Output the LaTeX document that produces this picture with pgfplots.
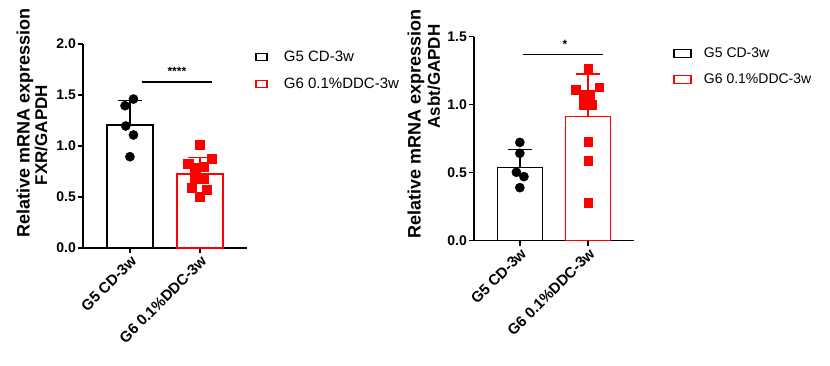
\documentclass[border=0pt]{standalone}
\usepackage{fontspec}
\setmainfont{Liberation Sans}
\usepackage{pgfplots}
\pgfplotsset{compat=1.18}
\definecolor{myred}{RGB}{255,0,0}
\pgfplotsset{
  barchart/.style={
    scale only axis, anchor=south west, clip=false,
    xmin=-0.67, xmax=1.67, ymin=0,
    axis x line*=bottom, axis y line*=left,
    axis line style={line width=1.5pt, black},
    xtick={0,1}, xticklabels={G5 CD-3w, G6 0.1\%DDC-3w},
    xticklabel style={rotate=45, anchor=north east, inner sep=1pt, font=\bfseries\fontsize{15}{17}\selectfont},
    yticklabel style={font=\bfseries\fontsize{14}{16}\selectfont, inner sep=2pt},
    /pgf/number format/.cd, fixed, fixed zerofill, precision=1, assume math mode=true, /pgfplots/.cd,
    tick style={line width=1.5pt, black}, tick align=outside, major tick length=5pt,
    ylabel style={rotate=0, font=\bfseries\fontsize{18}{20}\selectfont},
    legend style={draw=none, fill=none, anchor=north west,
      inner sep=0pt, legend cell align=left, nodes={inner sep=2pt}},
  },
  bblack/.style={ybar, bar shift=0pt, draw=black, fill=white, line width=1.5pt,
    error bars/.cd, y dir=plus, y explicit, error mark=|, error bar style={line width=1.5pt, black},
    error mark options={line width=1.5pt, mark size=12pt, black}},
  bred/.style={ybar, bar shift=0pt, draw=myred, fill=white, line width=1.5pt,
    error bars/.cd, y dir=plus, y explicit, error mark=|, error bar style={line width=1.5pt, myred},
    error mark options={line width=1.5pt, mark size=12pt, myred}},
}
\begin{document}
\begin{tikzpicture}
\useasboundingbox (0pt,0pt) rectangle (830pt,366pt);
% Left chart: FXR
\begin{axis}[barchart, at={(83pt,118pt)}, width=164pt, height=204pt, ymax=2,
  ytick={0,0.5,1,1.5,2},
  ylabel={Relative mRNA expression},
  ylabel style={at={(rel axis cs:-0.354,0.615)}, anchor=center},
  bar width=46pt,
  legend image code/.code={\draw[#1] (0pt,-3.5pt) rectangle (11pt,3.5pt); \path[draw=none,fill=none] (0pt,0pt) -- (26pt,0pt);},
  legend style={at={(rel axis cs:1.049,0.975)}, font=\fontsize{15}{17}\selectfont, row sep=11pt}]
\addlegendimage{draw=black, fill=white, line width=1.4pt}
\addlegendentry{G5 CD-3w}
\addlegendimage{draw=myred, fill=white, line width=1.4pt}
\addlegendentry{G6 0.1\%DDC-3w}
\addplot[bblack] coordinates {(0,1.206) +- (0,0.238)};
\addplot[bred] coordinates {(1,0.725) +- (0,0.16)};
\addplot[only marks, mark=*, mark size=4.6pt, black] coordinates {
(0.05,1.46) (-0.07,1.395) (-0.06,1.196) (0.05,1.108) (0,0.895)};
\addplot[only marks, mark=square*, mark size=4.6pt, myred] coordinates {
(1,1.01) (1.17,0.873) (0.83,0.83) (0.93,0.79) (1.05,0.80)
(0.93,0.68) (1.05,0.68) (0.88,0.595) (1.1,0.575) (1,0.503)};
\addplot[black, line width=1.5pt] coordinates {(0.17,1.625) (1.17,1.625)};
\node[font=\bfseries\fontsize{12}{14}\selectfont] at (axis cs:0.67,1.73) {****};
\node[rotate=90, font=\bfseries\fontsize{17}{19}\selectfont] at (rel axis cs:-0.256,0.554) {FXR/GAPDH};
\end{axis}
% Right chart: Asbt
\begin{axis}[barchart, at={(474pt,125.3pt)}, width=160pt, height=204pt, ymax=1.5,
  ytick={0,0.5,1,1.5},
  ylabel={Relative mRNA expression},
  ylabel style={at={(rel axis cs:-0.3625,0.572)}, anchor=center},
  bar width=45pt,
  legend image code/.code={\draw[#1] (0pt,-4pt) rectangle (17pt,4pt); \path[draw=none,fill=none] (0pt,0pt) -- (28pt,0pt);},
  legend style={at={(rel axis cs:1.244,0.957)}, font=\fontsize{14}{16}\selectfont, row sep=11pt}]
\addlegendimage{draw=black, fill=white, line width=1.4pt}
\addlegendentry{G5 CD-3w}
\addlegendimage{draw=myred, fill=white, line width=1.4pt}
\addlegendentry{G6 0.1\%DDC-3w}
\addplot[bblack] coordinates {(0,0.537) +- (0,0.135)};
\addplot[bred] coordinates {(1,0.912) +- (0,0.314)};
\addplot[only marks, mark=*, mark size=4.6pt, black] coordinates {
(0,0.723) (0,0.643) (-0.05,0.503) (0.06,0.471) (0,0.39)};
\addplot[only marks, mark=square*, mark size=4.4pt, myred] coordinates {
(1,1.268) (0.82,1.108) (1.16,1.128) (0.94,1.076) (1.03,1.076)
(0.94,0.998) (1.05,0.998) (1,0.728) (1,0.586) (1,0.282)};
\addplot[black, line width=1.5pt] coordinates {(0.05,1.37) (1.21,1.37)};
\node[font=\bfseries\fontsize{12}{14}\selectfont] at (axis cs:0.66,1.44) {*};
\node[rotate=90, font=\bfseries\fontsize{17}{19}\selectfont] at (rel axis cs:-0.25,0.805) {Asbt/GAPDH};
\end{axis}
\end{tikzpicture}
\end{document}
